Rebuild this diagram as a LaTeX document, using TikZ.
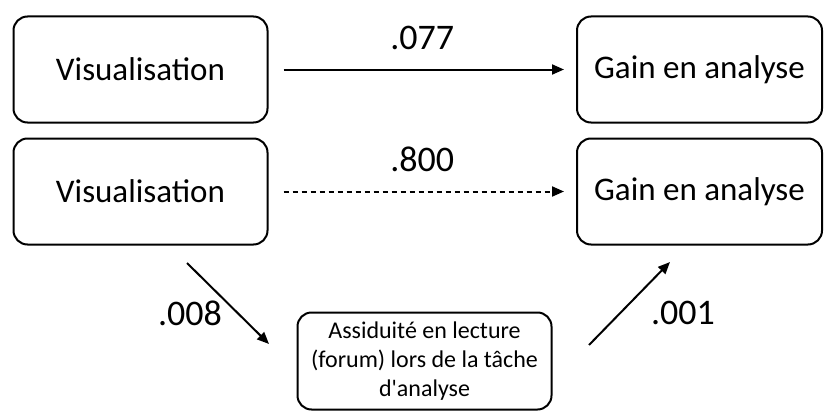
\documentclass[tikz,border=0pt]{standalone}
\usepackage{fontspec}
\setmainfont{Carlito}
\usetikzlibrary{arrows.meta}
\begin{document}
\begin{tikzpicture}[x=1pt, y=-1pt, line join=round, line width=2pt,
	>={Triangle[length=12pt,width=10pt]},
	box/.style={draw, rounded corners=14pt, minimum width=254pt, minimum height=106pt,
		font=\fontsize{33}{38}\selectfont},
	smallbox/.style={draw, rounded corners=14pt, minimum width=254pt, minimum height=97pt,
		align=center, font=\fontsize{24}{29}\selectfont},
	coef/.style={font=\fontsize{36}{40}\selectfont}]
	\useasboundingbox (0,0) rectangle (824,412);
	% boxes
	\node[box] (vis1) at (140.5,69.5) {Visualisation};
	\node[box, minimum width=245pt] (gain1) at (699.5,69.5) {Gain en analyse};
	\node[box] (vis2) at (140.5,191.5) {Visualisation};
	\node[box, minimum width=245pt] (gain2) at (699.5,191.5) {Gain en analyse};
	\node[smallbox] (assid) at (424.5,361) {Assiduité en lecture\\(forum) lors de la tâche\\d\textquotesingle analyse};
	% direct paths
	\draw[->, shorten <=15pt, shorten >=12pt] (vis1.east) -- (gain1.west) node[coef, midway, above=15pt] (c1) {.077};
	\draw[->, dash pattern=on 5.5pt off 3.5pt, shorten <=15pt, shorten >=12pt] (vis2.east) -- (gain2.west) node[coef, midway, above=15pt] (c2) {.800};
	% mediation
	\coordinate (a1) at (187,263); \coordinate (a2) at (269,344);
	\coordinate (b1) at (589,345); \coordinate (b2) at (670,262);
	\draw[->] (a1) -- (a2);
	\draw[->] (b1) -- (b2);
	\node[coef] (c3) at (190,313) {.008};
	\node[coef] (c4) at (683,313) {.001};
\end{tikzpicture}
\end{document}
